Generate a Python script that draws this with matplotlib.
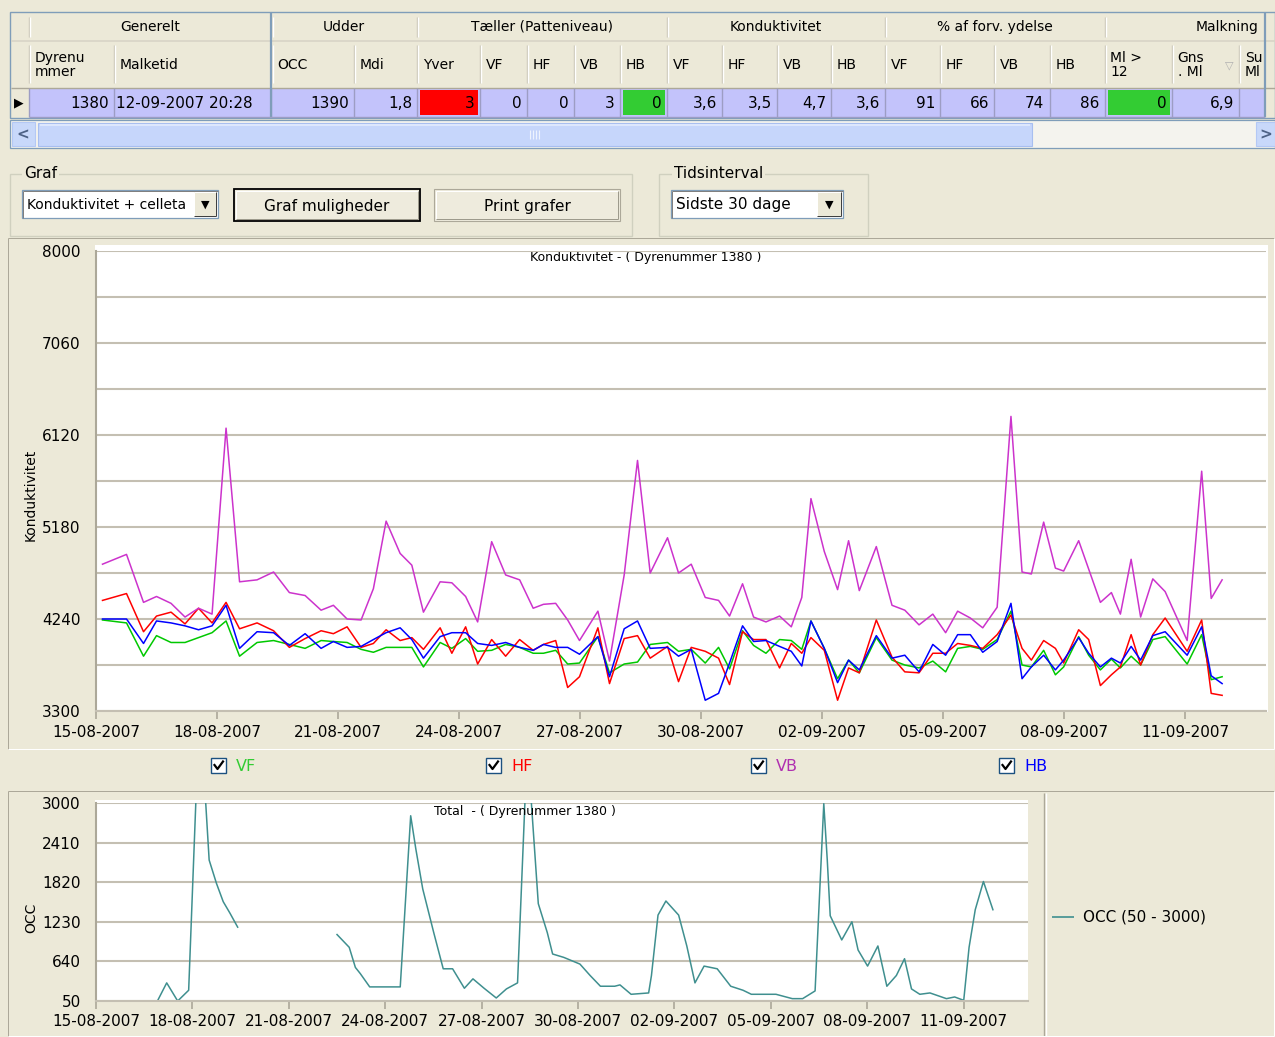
import numpy as np
import pandas as pd
import matplotlib
matplotlib.use("Agg")
import matplotlib.pyplot as plt
import matplotlib.dates as mdates
from matplotlib.patches import Rectangle

plt.rcParams['font.family'] = ['DejaVu Sans']

# ---------------- data ----------------
group_names = ["Generelt", "Udder", "Tæller (Patteniveau)", "Konduktivitet", "% af forv. ydelse", "Malkning"]
column_names = ["Dyrenu\nmmer", "Malketid", "OCC", "Mdi", "Yver", "VF", "HF", "VB", "HB",
                "VF", "HF", "VB", "HB", "VF", "HF", "VB", "HB", "Ml >\n12", "Gns\n. Ml", "Sum\nMl"]
row_values = ["1380", "12-09-2007 20:28", "1390", "1,8", "3", "0", "0", "3", "0",
              "3,6", "3,5", "4,7", "3,6", "91", "66", "74", "86", "0", "6,9", ""]
row_flags = [None, None, None, None, "red", None, None, None, "green",
             None, None, None, None, None, None, None, None, "green", None, None]

milk_times = [
    "2007-08-15 03:52", "2007-08-15 18:09", "2007-08-16 04:16", "2007-08-16 12:00", "2007-08-16 20:38",
    "2007-08-17 04:58", "2007-08-17 13:00", "2007-08-17 21:02", "2007-08-18 05:22", "2007-08-18 13:24",
    "2007-08-18 23:49", "2007-08-19 09:38", "2007-08-19 19:02", "2007-08-20 04:23", "2007-08-20 13:54",
    "2007-08-20 21:13", "2007-08-21 05:22", "2007-08-21 13:42", "2007-08-21 21:01", "2007-08-22 04:35",
    "2007-08-22 12:55", "2007-08-22 19:52", "2007-08-23 02:47", "2007-08-23 12:43", "2007-08-23 19:41",
    "2007-08-24 03:53", "2007-08-24 11:02", "2007-08-24 19:22", "2007-08-25 03:41", "2007-08-25 12:01",
    "2007-08-25 20:04", "2007-08-26 02:11", "2007-08-26 09:27", "2007-08-26 16:35", "2007-08-26 23:37",
    "2007-08-27 10:34", "2007-08-27 17:28", "2007-08-28 02:12", "2007-08-28 10:08", "2007-08-28 17:41",
    "2007-08-29 03:59", "2007-08-29 10:32", "2007-08-29 18:05", "2007-08-30 02:25", "2007-08-30 10:20",
    "2007-08-30 16:53", "2007-08-31 00:37", "2007-08-31 07:10", "2007-08-31 14:32", "2007-08-31 22:38",
    "2007-09-01 05:36", "2007-09-01 11:51", "2007-09-01 17:18", "2007-09-02 01:14", "2007-09-02 09:09",
    "2007-09-02 15:41", "2007-09-02 22:04", "2007-09-03 08:11", "2007-09-03 17:31", "2007-09-04 01:08",
    "2007-09-04 09:36", "2007-09-04 17:48", "2007-09-05 01:25", "2007-09-05 08:34", "2007-09-05 16:07",
    "2007-09-05 23:30", "2007-09-06 08:04", "2007-09-06 16:17", "2007-09-06 22:53", "2007-09-07 04:25",
    "2007-09-07 11:44", "2007-09-07 18:43", "2007-09-07 23:38", "2007-09-08 08:34", "2007-09-08 14:31",
    "2007-09-08 21:29", "2007-09-09 04:02", "2007-09-09 09:23", "2007-09-09 15:46", "2007-09-09 21:25",
    "2007-09-10 04:40", "2007-09-10 12:00", "2007-09-11 01:06", "2007-09-11 09:44", "2007-09-11 15:24",
    "2007-09-11 21:54"]

cond_vf = [4230, 4200, 3860, 4070, 4000, 4000, 4050, 4100, 4220, 3860,
           4000, 4020, 3980, 3940, 4020, 4010, 4000, 3930, 3900, 3950,
           3950, 3950, 3750, 4000, 3940, 4040, 3910, 3920, 3980, 3950,
           3890, 3890, 3920, 3780, 3790, 4060, 3690, 3780, 3800, 3980,
           4000, 3910, 3930, 3790, 3950, 3730, 4120, 3970, 3890, 4030,
           4020, 3930, 4220, 3940, 3630, 3820, 3690, 4050, 3820, 3770,
           3740, 3810, 3700, 3940, 3960, 3930, 4030, 4320, 3770, 3750,
           3920, 3670, 3750, 4060, 3870, 3720, 3830, 3740, 3860, 3770,
           4030, 4060, 3780, 4080, 3620, 3650]
cond_hf = [4430, 4500, 4110, 4270, 4310, 4190, 4350, 4200, 4410, 4140,
           4200, 4120, 3950, 4040, 4120, 4090, 4160, 3950, 3990, 4130,
           4020, 4050, 3930, 4150, 3890, 4160, 3780, 4030, 3860, 4030,
           3920, 3980, 4020, 3540, 3650, 4150, 3580, 4040, 4070, 3840,
           3960, 3600, 3950, 3910, 3840, 3570, 4110, 4030, 4030, 3740,
           3990, 3890, 4050, 3920, 3410, 3740, 3690, 4230, 3850, 3700,
           3690, 3890, 3890, 3990, 3970, 3940, 4080, 4280, 3940, 3820,
           4020, 3940, 3790, 4130, 4030, 3560, 3670, 3750, 4080, 3770,
           4080, 4250, 3910, 4230, 3480, 3460]
cond_vb = [4800, 4900, 4410, 4470, 4400, 4260, 4350, 4290, 6190, 4620,
           4640, 4720, 4510, 4480, 4330, 4380, 4240, 4230, 4550, 5240,
           4910, 4790, 4310, 4620, 4610, 4470, 4210, 5030, 4690, 4640,
           4350, 4390, 4400, 4230, 4020, 4320, 3810, 4690, 5860, 4710,
           5070, 4710, 4800, 4460, 4430, 4270, 4600, 4260, 4210, 4270,
           4160, 4460, 5470, 4930, 4540, 5040, 4530, 4980, 4380, 4330,
           4180, 4290, 4100, 4320, 4250, 4150, 4360, 6310, 4720, 4700,
           5230, 4760, 4730, 5040, 4750, 4410, 4510, 4290, 4850, 4260,
           4650, 4520, 4020, 5750, 4450, 4640]
cond_hb = [4240, 4240, 3990, 4220, 4200, 4170, 4130, 4170, 4380, 3940,
           4110, 4100, 3970, 4090, 3940, 4010, 3950, 3960, 4030, 4100,
           4150, 4030, 3840, 4060, 4100, 4100, 3990, 3970, 4000, 3950,
           3920, 3980, 3950, 3950, 3880, 4060, 3650, 4140, 4220, 3940,
           3950, 3860, 3930, 3410, 3480, 3790, 4170, 4010, 4020, 3960,
           3910, 3760, 4220, 3940, 3590, 3820, 3720, 4070, 3840, 3870,
           3700, 3980, 3870, 4080, 4080, 3900, 4010, 4400, 3630, 3750,
           3870, 3720, 3820, 4050, 3890, 3750, 3840, 3790, 3960, 3820,
           4070, 4110, 3870, 4160, 3660, 3580]

occ_times = [
    "2007-08-16 21:06", "2007-08-17 04:48", "2007-08-17 13:00", "2007-08-17 21:12", "2007-08-18 05:24",
    "2007-08-18 12:30", "2007-08-18 18:00", "2007-08-18 23:00", "2007-08-19 04:00", "2007-08-19 09:48",
    "2007-08-20 12:00",
    "2007-08-22 12:00", "2007-08-22 21:06", "2007-08-23 01:42", "2007-08-23 05:18", "2007-08-23 12:24",
    "2007-08-23 20:00", "2007-08-24 04:00", "2007-08-24 11:12", "2007-08-24 19:00", "2007-08-24 22:48",
    "2007-08-25 04:00", "2007-08-25 12:12", "2007-08-25 19:18", "2007-08-26 02:18", "2007-08-26 11:06",
    "2007-08-26 17:30", "2007-08-27 01:48", "2007-08-27 10:54", "2007-08-27 18:30", "2007-08-28 02:48",
    "2007-08-28 10:06", "2007-08-28 18:18", "2007-08-29 01:00", "2007-08-29 05:00", "2007-08-29 13:18",
    "2007-08-30 01:24", "2007-08-30 09:00", "2007-08-30 16:42", "2007-08-31 03:24", "2007-08-31 07:18",
    "2007-08-31 15:36", "2007-09-01 04:42", "2007-09-01 06:48", "2007-09-01 11:42", "2007-09-01 17:36",
    "2007-09-02 03:06", "2007-09-02 09:12", "2007-09-02 15:18", "2007-09-02 22:06", "2007-09-03 07:54",
    "2007-09-03 18:00", "2007-09-04 03:12", "2007-09-04 09:24", "2007-09-05 03:48", "2007-09-05 16:00",
    "2007-09-05 23:42", "2007-09-06 09:00", "2007-09-06 15:30", "2007-09-06 18:06", "2007-09-06 20:18",
    "2007-09-07 04:54", "2007-09-07 12:30", "2007-09-07 17:06", "2007-09-08 00:12", "2007-09-08 07:54",
    "2007-09-08 14:36", "2007-09-08 21:42", "2007-09-09 03:48", "2007-09-09 09:00", "2007-09-09 15:12",
    "2007-09-09 22:48", "2007-09-10 11:06", "2007-09-10 17:12", "2007-09-11 00:00", "2007-09-11 04:00",
    "2007-09-11 08:36", "2007-09-11 14:42", "2007-09-11 21:48"]
occ_values = [20, 320, 50, 210, 4500, 2150, 1800, 1530, 1360, 1150,
              np.nan,
              1040, 850, 550, 460, 260, 260, 260, 260, 2810, 2320,
              1720, 1070, 530, 530, 240, 380, 240, 95, 230, 320,
              3880, 1500, 1070, 750, 700, 600, 430, 270, 270, 290,
              150, 170, 430, 1330, 1540, 1330, 870, 320, 570, 530,
              270, 210, 150, 150, 85, 85, 200, 2990, 2150, 1320,
              960, 1230, 810, 570, 870, 270, 430, 680, 230, 150,
              170, 85, 110, 60, 850, 1410, 1830, 1410]

series_names = ["VF", "HF", "VB", "HB"]
series_colors = ["#00C800", "#FF0000", "#CC33CC", "#0000FF"]
label_colors = ["#33CC33", "#FF0000", "#B030B0", "#0000FF"]

# ---------------- figure / UI layer ----------------
W, H = 1275, 1037
BG = "#ECE9D8"
fig = plt.figure(figsize=(W / 100, H / 100), dpi=100, facecolor=BG)
ui = fig.add_axes([0, 0, 1, 1], zorder=0)
ui.set_xlim(0, W)
ui.set_ylim(H, 0)
ui.axis("off")


def box(x0, y0, x1, y1):
    return [x0 / W, 1 - y1 / H, (x1 - x0) / W, (y1 - y0) / H]


def rect(x0, y0, x1, y1, fc="none", ec="none", lw=0.72, z=1):
    ui.add_patch(Rectangle((x0, y0), x1 - x0, y1 - y0, facecolor=fc, edgecolor=ec, linewidth=lw, zorder=z))


def line(xs, ys, c, lw=0.72, z=2):
    ui.plot(xs, ys, color=c, lw=lw, zorder=z, solid_capstyle="butt")


def bevel(x0, y0, x1, y1, light="white", dark="#ACA899", z=3):
    line([x0, x1], [y0, y0], light, z=z)
    line([x0, x0], [y0, y1], light, z=z)
    line([x0, x1], [y1, y1], dark, z=z)
    line([x1, x1], [y0, y1], dark, z=z)


def clipped_text(x, y, s, clip, **kw):
    t = ui.text(x, y, s, clip_on=True, **kw)
    cp = Rectangle((clip[0], clip[1]), clip[2] - clip[0], clip[3] - clip[1], transform=ui.transData, fc="none")
    t.set_clip_path(cp)
    return t


# ---- grid table ----
col_edges = [28.6, 114, 271.4, 354, 417, 480, 526.5, 573.5, 620, 666.6, 721.7, 776.8,
             831, 885, 940, 994, 1049.5, 1104.5, 1171.5, 1239, 1300]
group_edges = [28.6, 271.4, 417, 666.6, 885, 1104.5, 1350]
rect(10, 12, 1275, 118, fc=BG, ec="#7F9DB9", lw=1.0)
line([11, 1275], [40.5, 40.5], "#D8D4C6", lw=1.2)
line([11, 1275], [87.5, 87.5], "#ACA899", lw=1.0)
for gx in group_edges[:-1]:
    line([gx, gx], [17, 37], "#C9C5B5", lw=1.0)
    line([gx + 1.2, gx + 1.2], [17, 37], "white", lw=1.0)
for gi, g in enumerate(group_names):
    cx = (group_edges[gi] + group_edges[gi + 1]) / 2
    clipped_text(cx, 27, g, (11, 12, 1264, 40), ha="center", va="center", fontsize=10)
for cx in col_edges[:-1]:
    line([cx, cx], [45, 83], "#C9C5B5", lw=1.0)
    line([cx + 1.2, cx + 1.2], [45, 83], "white", lw=1.0)
for ci, name in enumerate(column_names):
    clipped_text(col_edges[ci] + 6, 65, name, (11, 40, 1263, 88), ha="left", va="center",
                 fontsize=10, linespacing=0.95)
ui.text(1229, 65, "▽", fontsize=8, color="#B0B0B0", ha="center", va="center")
# data row
rect(28.6, 88, 1264.5, 117, fc="#C3C3FB", z=1)
ui.text(19, 102.5, "▶", fontsize=9, ha="center", va="center", color="black")
for ci, val in enumerate(row_values):
    x0, x1 = col_edges[ci], min(col_edges[ci + 1], 1264.5)
    line([x0, x0], [88, 117], "#9D9DC4", lw=1.0)
    if row_flags[ci] is not None:
        rect(x0 + 3, 90, x1 - 2, 115, fc={"red": "#FF0000", "green": "#33CC33"}[row_flags[ci]], z=1.5)
    if ci == 1:
        ui.text(x0 + 2, 103, val, ha="left", va="center", fontsize=11)
    elif val:
        ui.text(x1 - 5, 103, val, ha="right", va="center", fontsize=11)
line([271.4, 271.4], [12, 117], "#7F9DB9", lw=1.6)
line([1264.5, 1264.5], [12, 117], "#7F9DB9", lw=1.6)
line([28.6, 1264.5], [117, 117], "#9D9DC4", lw=1.0)

# ---- scrollbar ----
rect(10, 120, 1275, 148, fc="#F4F3EE", ec="#7F9DB9", lw=0.9)
rect(12, 122, 35, 146, fc="#C8D8FA", ec="#B4C8F5", lw=0.8)
ui.text(23, 134.5, "<", fontsize=11, ha="center", va="center", color="#4D6185", fontweight="bold")
rect(38, 123, 1032, 146, fc="#C6D6FB", ec="#A7BEF0", lw=0.8)
line([40, 1030], [125, 125], "#DDE7FD", lw=1.5)
for gx in [530, 533, 536, 539]:
    line([gx, gx], [130, 139], "#EEF3FE", lw=0.8)
rect(1256, 122, 1275, 146, fc="#C8D8FA", ec="#B4C8F5", lw=0.8)
ui.text(1266, 134.5, ">", fontsize=11, ha="center", va="center", color="#4D6185", fontweight="bold")


# ---- controls ----
def group_box(x0, y0, x1, y1, label, lx):
    rect(x0, y0, x1, y1, ec="#D0D0BF", lw=1.0)
    ui.text(lx, y0, label, fontsize=11, ha="left", va="center",
            bbox=dict(fc=BG, ec="none", pad=1.2), zorder=4)


def combo(x0, y0, x1, y1, label, btn_w=24, fs=11):
    rect(x0, y0, x1, y1, fc="white", ec="#7F9DB9", lw=0.9)
    line([x0 + 1, x1], [y0 + 1, y0 + 1], "#808080")
    line([x0 + 1, x0 + 1], [y0 + 1, y1], "#808080")
    ui.text(x0 + 5, (y0 + y1) / 2 + 1, label, ha="left", va="center", fontsize=fs)
    rect(x1 - btn_w, y0 + 2, x1 - 2, y1 - 2, fc=BG, z=4)
    bevel(x1 - btn_w, y0 + 2, x1 - 2, y1 - 2, dark="#404040", z=5)
    ui.text(x1 - btn_w / 2 - 1, (y0 + y1) / 2 + 1, "▼", fontsize=8, ha="center", va="center", zorder=6)


def button(x0, y0, x1, y1, label, default=False):
    rect(x0, y0, x1, y1, fc="#EEEBDD", ec="black" if default else "#ACA899", lw=1.3 if default else 0.8)
    bevel(x0 + 2, y0 + 2, x1 - 2, y1 - 2, dark="#9D9A8C")
    ui.text((x0 + x1) / 2, (y0 + y1) / 2 + 1, label, fontsize=11, ha="center", va="center")


group_box(10, 174, 632, 236, "Graf", 24)
combo(22, 190, 218, 218, "Konduktivitet + celleta", fs=10)
button(234, 189, 420, 221, "Graf muligheder", default=True)
button(434, 189, 620, 221, "Print grafer")
group_box(659, 174, 868, 236, "Tidsinterval", 674)
combo(671, 190, 843, 218, "Sidste 30 dage", btn_w=26)

# ---- chart panels ----
rect(8, 238, 1275, 749, fc=BG, ec="none")
bevel(8, 238, 1274, 749, light="#ACA899", dark="white")
rect(95, 245, 1268, 712, fc="white", z=1.2)
rect(8, 791, 1275, 1036, fc=BG, ec="none")
bevel(8, 791, 1274, 1036, light="#ACA899", dark="white")
line([1044, 1044], [793, 1036], "#ACA899", lw=1.0)
line([1045.5, 1045.5], [793, 1036], "white", lw=1.0)
rect(95, 800, 1028, 1002, fc="white", z=1.2)

# checkboxes
for i, name in enumerate(series_names):
    bx = [211, 486, 751, 999][i]
    rect(bx, 758, bx + 15, 773, fc="white", ec="#1C5180", lw=1.0, z=3)
    ui.plot([bx + 3.5, bx + 6.5, bx + 12], [765, 769, 761.5], color="black", lw=1.6, zorder=4)
    ui.text(bx + 25, 766.5, name, fontsize=11.5, color=label_colors[i], ha="left", va="center")

ui.text(31, 495, "Konduktivitet", rotation=90, fontsize=10, ha="center", va="center")
ui.text(646, 258, "Konduktivitet - ( Dyrenummer 1380 )", fontsize=9, ha="center", va="center", zorder=5)
ui.text(31, 918, "OCC", rotation=90, fontsize=10, ha="center", va="center")
line([1052, 1074], [917, 917], "#3F8F8F", lw=1.2)
ui.text(1083, 917, "OCC (50 - 3000)", fontsize=11, ha="left", va="center")

# ---------------- main chart ----------------
t_milk = pd.to_datetime(milk_times)
x_start, x_end = pd.Timestamp("2007-08-15"), pd.Timestamp("2007-09-13")
tick_dates = pd.date_range("2007-08-15", "2007-09-11", freq="3D")
grid_col = "#C4BFB2"

ax = fig.add_axes(box(96, 251, 1266, 711), zorder=2)
ax.set_facecolor("none")
for vals, col in zip([cond_vf, cond_hf, cond_vb, cond_hb], series_colors):
    ax.plot(t_milk, vals, color=col, lw=1.1)
ax.set_xlim(x_start, x_end)
ax.set_ylim(3300, 8000)
ax.set_yticks(np.arange(3300, 8001, 940))
ax.set_yticks(np.arange(3770, 8000, 940), minor=True)
ax.grid(axis="y", which="both", color=grid_col, lw=1.5)
ax.set_axisbelow(True)
ax.set_xticks(tick_dates)
ax.xaxis.set_major_formatter(mdates.DateFormatter("%d-%m-%Y"))
ax.tick_params(axis="y", which="both", length=0, labelsize=11, pad=11)
ax.tick_params(axis="x", length=6, color="#ACA899", width=1.2, labelsize=11, pad=4)
for s in ["top", "right"]:
    ax.spines[s].set_visible(False)
ax.spines["left"].set_color("#ACA899")
ax.spines["left"].set_linewidth(1.5)
ax.spines["bottom"].set_color(grid_col)
ax.spines["bottom"].set_linewidth(1.5)

# ---------------- OCC chart ----------------
t_occ = pd.to_datetime(occ_times)
ax2 = fig.add_axes(box(96, 803, 1028, 1001), zorder=2)
ax2.set_facecolor("none")
ax2.plot(t_occ, occ_values, color="#3F8F8F", lw=1.1)
ax2.set_xlim(x_start, x_end)
ax2.set_ylim(50, 3000)
ax2.set_yticks([50, 640, 1230, 1820, 2410, 3000])
ax2.grid(axis="y", color=grid_col, lw=1.5)
ax2.set_axisbelow(True)
ax2.set_xticks(tick_dates)
ax2.xaxis.set_major_formatter(mdates.DateFormatter("%d-%m-%Y"))
ax2.tick_params(axis="y", length=0, labelsize=11, pad=11)
ax2.tick_params(axis="x", length=6, color="#ACA899", width=1.2, labelsize=11, pad=3)
for s in ["top", "right"]:
    ax2.spines[s].set_visible(False)
ax2.spines["left"].set_color("#ACA899")
ax2.spines["left"].set_linewidth(1.5)
ax2.spines["bottom"].set_color(grid_col)
ax2.spines["bottom"].set_linewidth(1.5)
ax2.text(0.46, 0.955, "Total  - ( Dyrenummer 1380 )", transform=ax2.transAxes,
         fontsize=9, ha="center", va="center")

fig.savefig("out.png", dpi=100, facecolor=BG)
